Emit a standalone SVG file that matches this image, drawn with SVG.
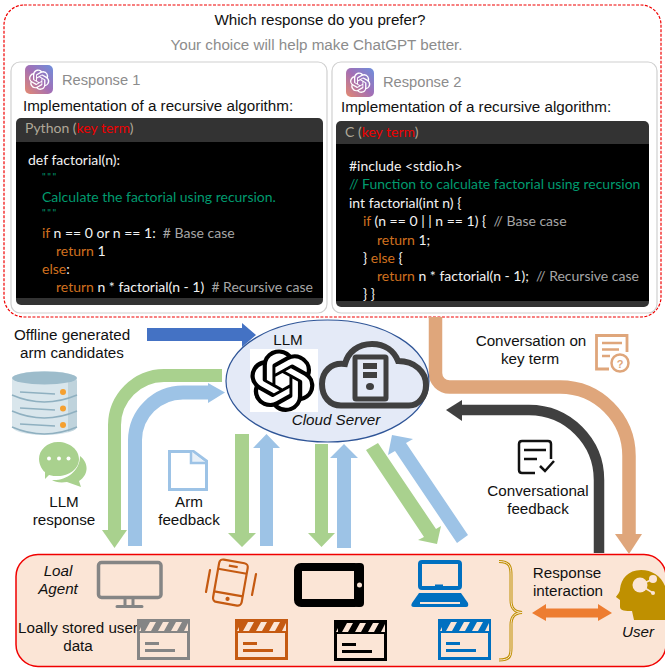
<svg xmlns="http://www.w3.org/2000/svg" width="665" height="671" viewBox="0 0 665 671">
<style>
text{font-family:"Liberation Sans",Arial,sans-serif;font-size:15.2px;fill:#111}
.c{text-anchor:middle}
.i{font-style:italic}
.g{fill:#8c8c8c}
.rs{font-size:14.7px}
.code text,.code{font-family:Lato,"Noto Sans",sans-serif;font-size:14px;fill:#f2f2f2;white-space:pre}
.code .k{fill:#d0701f}.code .t{fill:#009a6e}.code .m{fill:#a6a6a6}.code .r{fill:#f00000}
.code .q{font-size:10px;letter-spacing:1.500px;fill:#009a6e}
.conn{fill:none}
.gr{stroke:#a9d18e;fill:none}.bl{stroke:#9dc3e6;fill:none}
.gf{fill:#a9d18e}.bf{fill:#9dc3e6}
</style>
<defs>
<linearGradient id="app" x1="0" y1="1" x2="1" y2="0"><stop offset="0" stop-color="#e58a6f"/><stop offset=".5" stop-color="#a36fb5"/><stop offset="1" stop-color="#6d8fdc"/></linearGradient>
<path id="knot" d="M22.2819 9.8211a5.9847 5.9847 0 0 0-.5157-4.9108 6.0462 6.0462 0 0 0-6.5098-2.9A6.0651 6.0651 0 0 0 4.9807 4.1818a5.9847 5.9847 0 0 0-3.9977 2.9 6.0462 6.0462 0 0 0 .7427 7.0966 5.98 5.98 0 0 0 .511 4.9107 6.051 6.051 0 0 0 6.5146 2.9001A5.9847 5.9847 0 0 0 13.2599 24a6.0557 6.0557 0 0 0 5.7718-4.2058 5.9894 5.9894 0 0 0 3.9977-2.9001 6.0557 6.0557 0 0 0-.7475-7.0729zm-9.022 12.6081a4.4755 4.4755 0 0 1-2.8764-1.0408l.1419-.0804 4.7783-2.7582a.7948.7948 0 0 0 .3927-.6813v-6.7369l2.02 1.1686a.071.071 0 0 1 .038.052v5.5826a4.504 4.504 0 0 1-4.4945 4.4944zm-9.6607-4.1254a4.4708 4.4708 0 0 1-.5346-3.0137l.142.0852 4.783 2.7582a.7712.7712 0 0 0 .7806 0l5.8428-3.3685v2.3324a.0804.0804 0 0 1-.0332.0615L9.74 19.9502a4.4992 4.4992 0 0 1-6.1408-1.6464zM2.3408 7.8956a4.485 4.485 0 0 1 2.3655-1.9728V11.6a.7664.7664 0 0 0 .3879.6765l5.8144 3.3543-2.0201 1.1685a.0757.0757 0 0 1-.071 0l-4.8303-2.7865A4.504 4.504 0 0 1 2.3408 7.872zm16.5963 3.8558L13.1038 8.364 15.1192 7.2a.0757.0757 0 0 1 .071 0l4.8303 2.7913a4.4944 4.4944 0 0 1-.6765 8.1042v-5.6772a.79.79 0 0 0-.407-.667zm2.0107-3.0231l-.142-.0852-4.7735-2.7818a.7759.7759 0 0 0-.7854 0L9.409 9.2297V6.8974a.0662.0662 0 0 1 .0284-.0615l4.8303-2.7866a4.4992 4.4992 0 0 1 6.6802 4.66zM8.3065 12.863l-2.02-1.1638a.0804.0804 0 0 1-.038-.0567V6.0742a4.4992 4.4992 0 0 1 7.3757-3.4537l-.142.0805L8.704 5.459a.7948.7948 0 0 0-.3927.6813zm1.0976-2.3654l2.602-1.4998 2.6069 1.4998v2.9994l-2.5974 1.4997-2.6067-1.4997Z"/>
<symbol id="clap" viewBox="0 0 53 41" width="53" height="41" overflow="visible">
<rect x="1.500" y="1.500" width="50" height="38" fill="none" stroke="currentColor" stroke-width="3"/>
<rect x="1" y="1" width="51" height="13" fill="currentColor"/>
<path d="M8 12l5-9h6l-5 9zM21 12l5-9h6l-5 9zM34 12l5-9h6l-5 9zM2 12l2-4v4zM47 12l4-8v8z" fill="#fbe5d6"/>
<path d="M8 24.500h14M8 31.500h30" stroke="currentColor" stroke-width="3" fill="none"/>
</symbol>
</defs>

<rect width="665" height="671" fill="#fff"/>

<g id="survey-frame">
<rect x="4" y="5" width="657" height="312" rx="20" fill="#fff" stroke="#f00000" stroke-width="1.200" stroke-dasharray="3 1.500"/>
<text class="c" x="320" y="25">Which response do you prefer?</text>
<text class="c g" x="316.500" y="50">Your choice will help make ChatGPT better.</text>
</g>

<g id="response-1">
<rect x="11" y="62" width="316" height="251" rx="9" fill="#fff" stroke="#d0d0d0" stroke-width="1.200"/>
<rect x="25" y="65" width="28" height="29" rx="5" fill="url(#app)"/>
<use href="#knot" transform="translate(29,69.500) scale(.85)" fill="#fff"/>
<text class="g rs" x="62" y="85">Response 1</text>
<text x="23" y="111">Implementation of a recursive algorithm:</text>
<rect x="16" y="118" width="307" height="187" rx="5" fill="#333"/>
<rect x="16" y="142" width="307" height="156" fill="#000"/>
<g class="code">
<text x="25" y="133" style="fill:#b0a898">Python (<tspan class="r">key term</tspan>)</text>
<text x="28" y="165">def factorial(n):</text>
<text x="42" y="180" class="q">"""</text>
<text x="42" y="202" class="t">Calculate the factorial using recursion.</text>
<text x="42" y="216" class="q">"""</text>
<text x="42" y="238"><tspan class="k">if</tspan> n == 0 or n == 1:  <tspan class="m"># Base case</tspan></text>
<text x="56" y="256"><tspan class="k">return</tspan> 1</text>
<text x="42" y="274"><tspan class="k">else</tspan>:</text>
<text x="56" y="292"><tspan class="k">return</tspan> n * factorial(n - 1)  <tspan class="m"># Recursive case</tspan></text>
</g>
</g>

<g id="response-2">
<rect x="332" y="62" width="325" height="251" rx="9" fill="#fff" stroke="#d0d0d0" stroke-width="1.200"/>
<rect x="346" y="68" width="28" height="29" rx="5" fill="url(#app)"/>
<use href="#knot" transform="translate(350,72.500) scale(.85)" fill="#fff"/>
<text class="g rs" x="383" y="87">Response 2</text>
<text x="341" y="112">Implementation of a recursive algorithm:</text>
<rect x="336" y="121" width="313" height="186" rx="5" fill="#333"/>
<rect x="336" y="144" width="313" height="157" fill="#000"/>
<g class="code">
<text x="345" y="137" style="fill:#b0a898">C (<tspan class="r">key term</tspan>)</text>
<text x="349" y="171">#include &lt;stdio.h&gt;</text>
<text x="349" y="189" class="t">// Function to calculate factorial using recursion</text>
<text x="349" y="208">int factorial(int n) {</text>
<text x="363" y="226"><tspan class="k">if</tspan> (n == 0 | | n == 1) {  <tspan class="m">// Base case</tspan></text>
<text x="377" y="245"><tspan class="k">return</tspan> 1;</text>
<text x="363" y="263">} <tspan class="k">else</tspan> {</text>
<text x="377" y="281"><tspan class="k">return</tspan> n * factorial(n - 1);  <tspan class="m">// Recursive case</tspan></text>
<text x="363" y="299">} }</text>
</g>
</g>

<g id="local-agent-panel">
<rect x="16" y="554.500" width="650" height="112" rx="22" fill="#fbe5d6" stroke="#f00000" stroke-width="1.500"/>
<text class="c i" x="58" y="576">Loal</text>
<text class="c i" x="58" y="594">Agent</text>
<text class="c" x="78" y="633">Loally stored user</text>
<text class="c" x="78" y="651">data</text>
</g>

<g id="connectors" class="conn">
<polygon points="147,328 242,328 242,323 256,335 242,347 242,341 147,341" fill="#4472c4"/>
<path class="gr" stroke-width="13" d="M222 375.500H164A50 50 0 0 0 114.500 425V531"/>
<polygon class="gf" points="102,530 127,530 114.500,548"/>
<path class="bl" stroke-width="14" d="M135 546V440A48 48 0 0 1 183 392.500H209"/>
<polygon class="bf" points="208,383 225,392.500 208,403"/>
<polygon class="gf" points="235,434 249,434 249,533 256,533 242,547 228,533 235,533"/>
<polygon class="bf" points="260,546 273,546 273,448 280,448 266.500,434 253,448 260,448"/>
<polygon class="gf" points="315,444 328,444 328,533 335,533 321.500,547 308,533 315,533"/>
<polygon class="bf" points="337,548 351,548 351,458 358,458 344,444 330,458 337,458"/>
<polygon class="gf" points="366,450 378,443 436,529 441,526 437,544 418,540 424,537"/>
<polygon class="bf" points="457,543 468,535 406,443 413,439 392,435 388,455 395,451"/>
<path stroke="#dfa67b" stroke-width="13.500" d="M435.500 317V373A14 14 0 0 0 449.500 387H560A69 69 0 0 1 629 456V535"/>
<polygon fill="#dfa67b" points="615,534 642,534 629,554"/>
<path stroke="#404040" stroke-width="10.500" d="M599 553V480A70 70 0 0 0 529 410H461"/>
<polygon fill="#404040" points="462,400 462,421 446,410"/>
<polygon fill="#ed7d31" points="532,613 546,604 546,608.500 598,608.500 598,604 612,613 598,621 598,617.500 546,617.500 546,621"/>
</g>

<g id="cloud-server">
<ellipse cx="327.500" cy="381" rx="101.500" ry="61" fill="#e4eaf7" stroke="#2f5597" stroke-width="1.200"/>
<text class="c" x="288" y="345">LLM</text>
<rect x="250" y="349" width="68" height="63" fill="#fff"/>
<use href="#knot" transform="translate(250,349.500) scale(2.7,2.6)" fill="#000"/>
<path d="M341 405.500H409C419 405.500 426 396 426 385C426 372 415 361 398 361C394 351 385 344 372 344C358 344 348 352 345 364C331 362 322 372 322 384C322 397 330 405.500 341 405.500Z" fill="none" stroke="#404040" stroke-width="6"/>
<rect x="355" y="357" width="31" height="42" rx="1" fill="#e4eaf7" stroke="#404040" stroke-width="5"/>
<rect x="363" y="363" width="14" height="6" fill="#404040"/>
<rect x="363" y="372" width="14" height="6" fill="#404040"/>
<ellipse cx="370" cy="386.500" rx="4" ry="3.500" fill="#404040"/>
<text class="c i" x="336" y="425">Cloud Server</text>
</g>

<g id="arm-candidates">
<text class="c" x="72" y="340">Offline generated</text>
<text class="c" x="72" y="358">arm candidates</text>
<path d="M12 380C12 368 77 368 77 380V426C77 438 12 438 12 426Z" fill="#d9e6ec"/>
<path d="M68 378Q77 379 77 381V426C77 430 72 431 68 432Z" fill="#bfd3dc"/>
<ellipse cx="44.500" cy="378" rx="32.500" ry="6.500" fill="#9dbccb"/>
<path d="M12 395Q44 409 77 395M12 411Q44 425 77 411M12 427Q44 441 77 427" fill="none" stroke="#8fb0c0" stroke-width="1.500"/>
<path d="M20 392L55 394M20 408L55 410M20 424L55 426" stroke="#8fb0c0" stroke-width="1.500"/>
<circle cx="63" cy="392" r="3" fill="#f5a030"/><circle cx="63" cy="408.500" r="3" fill="#f5a030"/><circle cx="63" cy="425" r="3" fill="#f5a030"/>
</g>

<g id="llm-response">
<path d="M80 456C88 462 90 474 79 481L81 487L67 482C60 483 55 482 52 480C65 481 80 472 80 456Z" fill="#a9d18e"/>
<path d="M58 442C70 442 79 450 79 459C79 469 69 476 58 476C55 476 52 476 49 475L45 479V472C43 471 39 465 39 459C39 450 47 442 58 442Z" fill="#a9d18e"/>
<circle cx="49" cy="458.500" r="2" fill="#fff"/><circle cx="59" cy="458.500" r="2" fill="#fff"/><circle cx="68.500" cy="458.500" r="2" fill="#fff"/>
<text class="c" x="64" y="507">LLM</text>
<text class="c" x="64" y="525">response</text>
</g>

<g id="arm-feedback">
<path d="M169.500 451.500H193.500L206.500 461V489.500H169.500Z" fill="#fff" stroke="#9dc3e6" stroke-width="3"/>
<path d="M191 451V463H206" fill="#e8f0f8" stroke="#9dc3e6" stroke-width="2.500"/>
<text class="c" x="189" y="507">Arm</text>
<text class="c" x="189" y="525">feedback</text>
</g>

<g id="conversation-key-term">
<text class="c" x="531" y="346">Conversation on</text>
<text class="c" x="530" y="364">key term</text>
<path d="M609 369H596.500V335.500H627V352" fill="none" stroke="#dfa67b" stroke-width="2.800"/>
<path d="M602 343H622M602 349.500H619M602 356H610" stroke="#dfa67b" stroke-width="2.500"/>
<circle cx="620" cy="363" r="8.500" fill="#fff" stroke="#dfa67b" stroke-width="2.500"/>
<text class="c" x="620" y="367.500" style="font-size:11px;font-weight:bold;fill:#dfa67b">?</text>
</g>

<g id="conversational-feedback">
<path d="M535 473H522Q519 473 519 470V444Q519 441 522 441H548Q551 441 551 444V459" fill="none" stroke="#111" stroke-width="2.500"/>
<path d="M524 450H546M524 459H537" stroke="#111" stroke-width="2.500"/>
<path d="M540 466L545 471L554 461" fill="none" stroke="#111" stroke-width="2.500"/>
<text class="c" x="538" y="496">Conversational</text>
<text class="c" x="538" y="514">feedback</text>
</g>

<g id="device-monitor">
<rect x="98.500" y="562.500" width="62.500" height="35" rx="3" fill="none" stroke="#858585" stroke-width="3.500"/>
<path d="M125 598V606M133 598V606M117 606.500H142" stroke="#858585" stroke-width="3" stroke-linecap="round" fill="none"/>
</g>

<g id="device-phone">
<g transform="rotate(10 230 582)" fill="none" stroke="#c55a11" stroke-width="2.200">
<rect x="216" y="561" width="29" height="43" rx="4"/>
<path d="M216 571H245M216 594H245M226 566H235"/>
<circle cx="230.500" cy="599" r="1" fill="#c55a11"/>
</g>
<path d="M210 570L206 592M256 574L252 595" stroke="#c55a11" stroke-width="2.200" stroke-linecap="round"/>
</g>

<g id="device-tablet">
<rect x="298" y="567" width="60" height="36" rx="3" fill="#fbe5d6" stroke="#000" stroke-width="8"/>
<rect x="354" y="563" width="10" height="44" rx="4" fill="#000"/>
<circle cx="359.500" cy="585" r="2.500" fill="#fbe5d6"/>
</g>

<g id="device-laptop">
<rect x="420" y="562" width="40" height="26" rx="2" fill="#fbe5d6" stroke="#0070c0" stroke-width="4"/>
<rect x="435" y="584.500" width="8" height="2" fill="#0070c0"/>
<path d="M419 593H461L468 603Q469 607 466 607H414Q410 607 412 603Z" fill="#0070c0"/>
<rect x="420" y="602" width="40" height="2" fill="#fbe5d6"/>
</g>

<g id="data-store-1"><use href="#clap" x="137" y="619" color="#858585"/></g>
<g id="data-store-2"><use href="#clap" x="235" y="619" color="#c55a11"/></g>
<g id="data-store-3"><use href="#clap" x="334" y="620" color="#000"/></g>
<g id="data-store-4"><use href="#clap" x="438" y="619" color="#0070c0"/></g>

<g id="response-interaction">
<path d="M499 561.500C510 561.500 511 567 511 575V600C511 608 514 612 522 612.500C514 613 511 617 511 625V648C511 656 510 660 499 660" fill="none" stroke="#bf9000" stroke-width="3"/>
<path d="M499 561.500C510 561.500 511 567 511 575V600C511 608 514 612 522 612.500C514 613 511 617 511 625V648C511 656 510 660 499 660" fill="none" stroke="#fbe5d6" stroke-width="1"/>
<text class="c" x="567" y="578">Response</text>
<text class="c" x="568" y="596">interaction</text>
</g>

<g id="user">
<path d="M641 570C628 570 621 579 620 589C620 593 616 596 616 597L620 600V607C620 611 626 611 632 611L634 620H665V586C661 576 652 570 641 570Z" fill="#bf9000"/>
<circle cx="640" cy="585" r="7.500" fill="#fbe5d6"/>
<circle cx="653" cy="579" r="4" fill="#fbe5d6"/>
<circle cx="653" cy="593" r="2" fill="#fbe5d6"/>
<path d="M640 585L653 579M640 585L653 593" stroke="#fbe5d6" stroke-width="1.500"/>
<text class="c i" x="638" y="637">User</text>
</g>
</svg>
